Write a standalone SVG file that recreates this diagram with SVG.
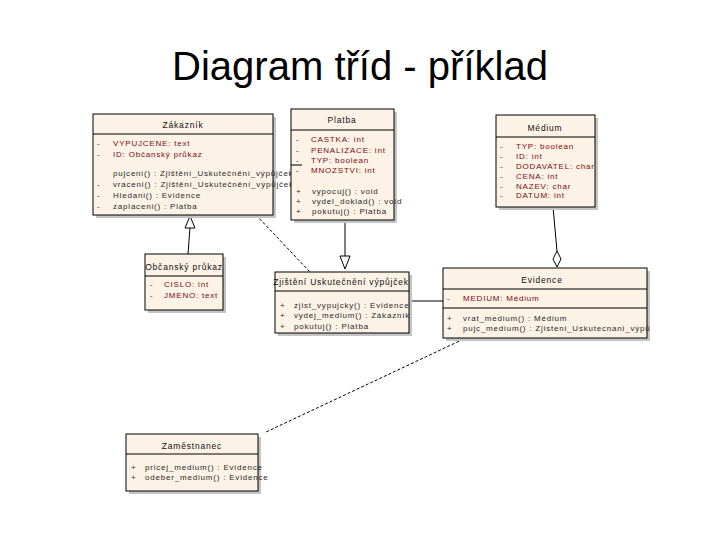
<svg xmlns="http://www.w3.org/2000/svg" width="720" height="540" viewBox="0 0 720 540">
<style>
.box{fill:#fcf2e6;stroke:#000;stroke-width:1}
.sh{fill:#c4c4c4}
.div{stroke:#000;stroke-width:1}
text{font-family:"Liberation Sans",Arial,sans-serif;font-size:8px;letter-spacing:0.8px;font-weight:normal}
.t{fill:#111;text-anchor:middle;font-size:8.5px}
.a{fill:#7e0b0b}
.o{fill:#2a2a2a}
.con{fill:none;stroke:#000;stroke-width:1}
.dash{fill:none;stroke:#000;stroke-width:1;stroke-dasharray:3,2}
.head{fill:#fff;stroke:#000;stroke-width:1}
</style>
<rect width="720" height="540" fill="#fff"/>
<text x="360" y="80" style="font-size:40px;letter-spacing:0;text-anchor:middle;fill:#000" textLength="376" lengthAdjust="spacingAndGlyphs">Diagram tříd - příklad</text>

<g id="connectors">
<line class="con" x1="188" y1="254" x2="190" y2="228"/>
<polygon class="head" points="190,216 185,228 195,228"/>
<line class="dash" x1="256" y1="215" x2="310" y2="272"/>
<line class="con" x1="345" y1="220" x2="345" y2="256"/>
<polygon class="head" points="340,256 350,256 345,269"/>
<line class="con" x1="411" y1="301" x2="443" y2="301"/>
<line class="con" x1="553" y1="207" x2="557" y2="251"/>
<polygon class="head" points="557,251 561,259 557,267 553,259"/>
<line class="dash" x1="468" y1="337" x2="266" y2="432"/>
</g>

<g id="zakaznik">
<rect class="sh" x="96" y="117" width="180" height="101"/>
<rect class="box" x="93" y="114" width="180" height="101"/>
<line class="div" x1="93" y1="134" x2="273" y2="134"/>
<text class="t" x="183" y="128">Zákazník</text>
<text class="a" x="97" y="146">-</text><text class="a" x="113" y="146">VYPUJCENE: text</text>
<text class="a" x="97" y="157">-</text><text class="a" x="113" y="157">ID: Občanský průkaz</text>
<text class="o" x="113" y="176">pujceni() : Zjištění_Uskutečnění_výpůjček</text>
<text class="o" x="97" y="187">-</text><text class="o" x="113" y="187">vraceni() : Zjištění_Uskutečnění_výpůjček</text>
<text class="o" x="97" y="198">-</text><text class="o" x="113" y="198">Hledani() : Evidence</text>
<text class="o" x="97" y="209">-</text><text class="o" x="113" y="209">zaplaceni() : Platba</text>
</g>

<g id="platba">
<rect class="sh" x="294" y="112" width="103" height="111"/>
<rect class="box" x="291" y="109" width="103" height="111"/>
<line class="div" x1="291" y1="130" x2="394" y2="130"/>
<text class="t" x="342" y="123">Platba</text>
<text class="a" x="296" y="142">-</text><text class="a" x="311" y="142">CASTKA: int</text>
<text class="a" x="296" y="153">-</text><text class="a" x="311" y="153">PENALIZACE: int</text>
<text class="a" x="296" y="163">-</text><text class="a" x="311" y="163">TYP: boolean</text>
<line class="div" x1="291" y1="165" x2="302" y2="165"/>
<text class="a" x="296" y="173">-</text><text class="a" x="311" y="173">MNOZSTVI: int</text>
<text class="o" x="296" y="194">+</text><text class="o" x="312" y="194">vypocuj() : void</text>
<text class="o" x="296" y="204">+</text><text class="o" x="312" y="204">vydel_doklad() : void</text>
<text class="o" x="296" y="214">+</text><text class="o" x="312" y="214">pokutuj() : Platba</text>
</g>

<g id="medium">
<rect class="sh" x="499" y="118" width="99" height="92"/>
<rect class="box" x="496" y="115" width="99" height="92"/>
<line class="div" x1="496" y1="137" x2="595" y2="137"/>
<text class="t" x="545" y="131">Médium</text>
<text class="a" x="500" y="149">-</text><text class="a" x="516" y="149">TYP: boolean</text>
<text class="a" x="500" y="159">-</text><text class="a" x="516" y="159">ID: int</text>
<text class="a" x="500" y="169">-</text><text class="a" x="516" y="169">DODAVATEL: char</text>
<text class="a" x="500" y="179">-</text><text class="a" x="516" y="179">CENA: int</text>
<text class="a" x="500" y="189">-</text><text class="a" x="516" y="189">NAZEV: char</text>
<text class="a" x="500" y="198">-</text><text class="a" x="516" y="198">DATUM: int</text>
</g>

<g id="obcansky-prukaz">
<rect class="sh" x="148" y="257" width="78" height="56"/>
<rect class="box" x="145" y="254" width="78" height="56"/>
<line class="div" x1="145" y1="276" x2="223" y2="276"/>
<text class="t" x="184" y="270">Občanský průkaz</text>
<text class="a" x="150" y="287">-</text><text class="a" x="164" y="287">CISLO: int</text>
<text class="a" x="150" y="298">-</text><text class="a" x="164" y="298">JMENO: text</text>
</g>

<g id="zjisteni">
<rect class="sh" x="278" y="275" width="134" height="61"/>
<rect class="box" x="275" y="272" width="134" height="61"/>
<line class="div" x1="275" y1="291" x2="409" y2="291"/>
<text class="t" x="341" y="285">Zjištění Uskutečnění výpůjček</text>
<text class="o" x="280" y="308">+</text><text class="o" x="294" y="308">zjist_vypujcky() : Evidence</text>
<text class="o" x="280" y="318">+</text><text class="o" x="294" y="318">vydej_medium() : Zákazník</text>
<text class="o" x="280" y="329">+</text><text class="o" x="294" y="329">pokutuj() : Platba</text>
</g>

<g id="evidence">
<rect class="sh" x="446" y="271" width="204" height="70"/>
<rect class="box" x="443" y="268" width="204" height="70"/>
<line class="div" x1="443" y1="289" x2="647" y2="289"/>
<text class="t" x="542" y="283">Evidence</text>
<text class="a" x="447" y="301">-</text><text class="a" x="463" y="301">MEDIUM: Médium</text>
<line class="div" x1="443" y1="308" x2="647" y2="308"/>
<text class="o" x="447" y="321">+</text><text class="o" x="463" y="321">vrat_medium() : Médium</text>
<text class="o" x="447" y="331">+</text><text class="o" x="463" y="331">pujc_medium() : Zjisteni_Uskutecnani_výpů</text>
</g>

<g id="zamestnanec">
<rect class="sh" x="129" y="437" width="132" height="57"/>
<rect class="box" x="126" y="434" width="132" height="57"/>
<line class="div" x1="126" y1="454" x2="258" y2="454"/>
<text class="t" x="192" y="449">Zaměstnanec</text>
<text class="o" x="131" y="470">+</text><text class="o" x="145" y="470">pricej_medium() : Evidence</text>
<text class="o" x="131" y="480">+</text><text class="o" x="145" y="480">odeber_medium() : Evidence</text>
</g>
</svg>
